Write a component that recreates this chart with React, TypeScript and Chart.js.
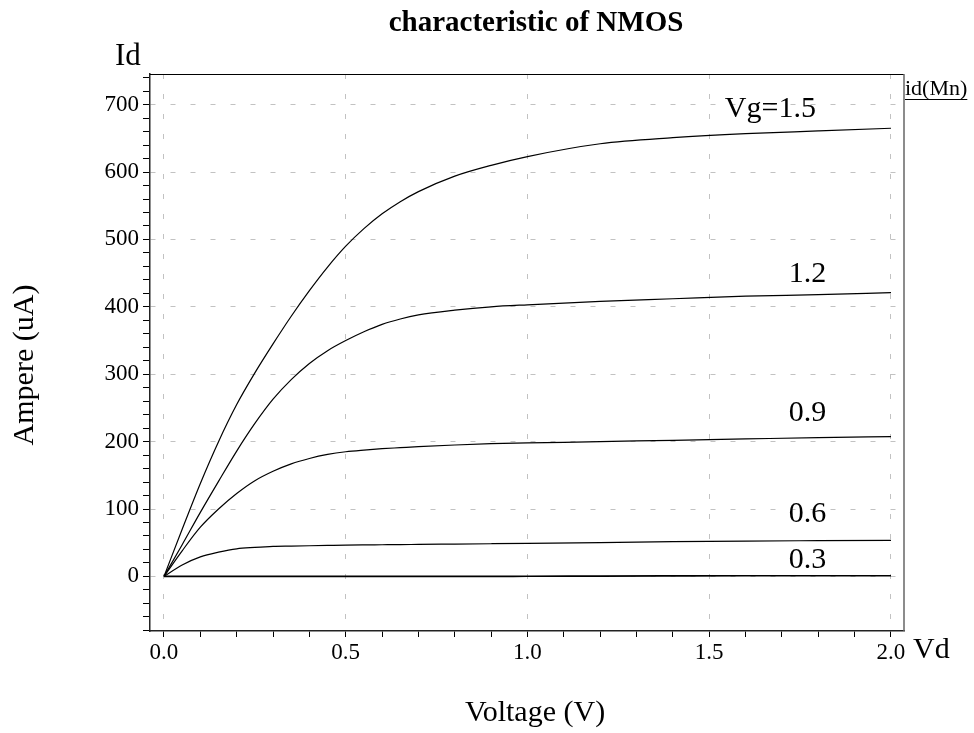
import React, { useEffect, useRef } from 'react';
import { Chart, registerables } from 'chart.js';

Chart.register(...registerables);

// Drain voltage samples (V)
const vd = [0, 0.05, 0.1, 0.15, 0.2, 0.25, 0.3, 0.35, 0.4, 0.45, 0.5, 0.55, 0.6, 0.65, 0.7, 0.8, 0.9, 1.0, 1.2, 1.4, 1.6, 1.8, 2.0];
// Drain current (uA) for each gate voltage
const idVg15 = [0, 70, 138, 200, 255, 302, 345, 386, 424, 459, 490, 516, 538, 556, 571, 594, 610, 623, 642, 651, 657, 661, 665];
const idVg12 = [0, 47, 95, 141, 186, 227, 263, 292, 316, 335, 350, 363, 374, 382, 388, 395, 400, 403, 408, 412, 416, 418, 421];
const idVg09 = [0, 38, 73, 100, 123, 142, 156, 167, 175, 181, 185, 187.5, 189.5, 191, 192.5, 195, 197, 198, 200, 202, 204, 206, 207.5];
const idVg06 = [0, 17, 29, 36, 41, 43, 44.5, 45, 45.5, 46, 46.5, 46.8, 47, 47.2, 47.5, 48, 48.5, 49, 50, 51.5, 52.5, 53, 53.5];
const idVg03 = [0, 0, 0, 0, 0, 0, 0, 0, 0, 0, 0, 0, 0, 0, 0, 0, 0, 0.2, 0.5, 0.8, 1, 1, 1];

const seriesData = [idVg15, idVg12, idVg09, idVg06, idVg03];
const seriesLabels = ['Vg=1.5', '1.2', '0.9', '0.6', '0.3'];

const xTickLabels = ['0.0', '0.5', '1.0', '1.5', '2.0'];
const yTickLabels = ['0', '100', '200', '300', '400', '500', '600', '700'];

const titleText = 'characteristic of NMOS';
const xAxisTitle = 'Voltage (V)';
const yAxisTitle = 'Ampere (uA)';
const xUnitLabel = 'Vd';
const yUnitLabel = 'Id';
const legendText = 'id(Mn)';

const FONT = '"Liberation Serif", "Times New Roman", serif';
const GRID = '#c2c2c2';

// label anchors (data coordinates, left/baseline)
const curveLabelAnchors = [
  { x: 1.543, y: 682 },
  { x: 1.719, y: 437 },
  { x: 1.719, y: 230 },
  { x: 1.719, y: 81 },
  { x: 1.719, y: 12 },
];

const textPlugin = {
  id: 'textPlugin',
  afterDraw(chart: any) {
    const { ctx, chartArea, scales } = chart;
    const xs = scales.x;
    const ys = scales.y;
    ctx.save();
    // top and right frame
    ctx.strokeStyle = '#000';
    ctx.lineWidth = 1;
    ctx.beginPath();
    ctx.moveTo(chartArea.left, chartArea.top + 0.5);
    ctx.lineTo(chartArea.right, chartArea.top + 0.5);
    ctx.stroke();
    ctx.strokeStyle = '#666';
    ctx.lineWidth = 1.5;
    ctx.beginPath();
    ctx.moveTo(chartArea.right, chartArea.top);
    ctx.lineTo(chartArea.right, chartArea.bottom);
    ctx.stroke();

    ctx.fillStyle = '#000';
    ctx.textBaseline = 'alphabetic';

    // title
    ctx.font = `bold 29px ${FONT}`;
    ctx.textAlign = 'center';
    ctx.fillText(titleText, 536, 31);

    // axis titles
    ctx.font = `30px ${FONT}`;
    ctx.fillText(xAxisTitle, 535, 721);
    ctx.save();
    ctx.translate(33, 365);
    ctx.rotate(-Math.PI / 2);
    ctx.fillText(yAxisTitle, 0, 0);
    ctx.restore();

    // unit labels
    ctx.textAlign = 'left';
    ctx.font = `31px ${FONT}`;
    ctx.fillText(yUnitLabel, 115, 65);
    ctx.font = `30px ${FONT}`;
    ctx.fillText(xUnitLabel, 913, 658);

    // legend entry
    ctx.font = `22px ${FONT}`;
    ctx.fillText(legendText, 905, 95);
    const w = ctx.measureText(legendText).width;
    ctx.lineWidth = 1;
    ctx.strokeStyle = '#000';
    ctx.beginPath();
    ctx.moveTo(905, 99.5);
    ctx.lineTo(905 + w, 99.5);
    ctx.stroke();

    // curve labels
    ctx.font = `30px ${FONT}`;
    seriesLabels.forEach((t, i) => {
      const a = curveLabelAnchors[i];
      ctx.fillText(t, xs.getPixelForValue(a.x), ys.getPixelForValue(a.y));
    });
    ctx.restore();
  },
};

export default function App() {
  const ref = useRef<HTMLCanvasElement>(null);
  useEffect(() => {
    const chart = new Chart(ref.current as HTMLCanvasElement, {
      type: 'line',
      data: {
        datasets: seriesData.map((arr, i) => ({
          label: seriesLabels[i],
          data: vd.map((x, j) => ({ x, y: arr[j] })),
          borderColor: '#000',
          borderWidth: i === 4 ? 1.6 : 1.2,
          pointRadius: 0,
          fill: false,
          cubicInterpolationMode: 'monotone' as const,
        })),
      },
      options: {
        animation: false,
        responsive: false,
        devicePixelRatio: 1,
        layout: { padding: { top: 74, right: 70, left: 0, bottom: 0 } },
        plugins: {
          legend: { display: false },
          tooltip: { enabled: false },
          title: { display: false },
        },
        scales: {
          x: {
            type: 'linear',
            min: -0.0385,
            max: 2.0358,
            afterFit: (s: any) => { s.height = 102; },
            afterBuildTicks: (s: any) => {
              s.ticks = Array.from({ length: 21 }, (_, i) => ({ value: i / 10 }));
            },
            ticks: {
              autoSkip: false,
              maxRotation: 0,
              padding: 2,
              color: '#000',
              font: { family: FONT, size: 23 },
              callback: (v: any) => {
                const k = Math.round(Number(v) * 10);
                return k % 5 === 0 ? xTickLabels[k / 5] : '';
              },
            },
            grid: {
              color: (c: any) => {
                const v = c.tick ? c.tick.value : NaN;
                return Math.round(v * 10) % 5 === 0 ? GRID : 'rgba(0,0,0,0)';
              },
              lineWidth: 1,
              tickColor: '#000',
              tickLength: 6,
              tickWidth: 1,
            },
            border: { display: true, color: '#222', width: 1.5, dash: [5, 15] },
          },
          y: {
            type: 'linear',
            min: -81,
            max: 745.5,
            afterFit: (s: any) => { s.width = 150; },
            afterBuildTicks: (s: any) => {
              s.ticks = Array.from({ length: 42 }, (_, i) => ({ value: (i - 4) * 20 }));
            },
            ticks: {
              autoSkip: false,
              padding: 4,
              color: '#000',
              font: { family: FONT, size: 23 },
              callback: (v: any) => {
                const n = Math.round(Number(v));
                return n % 100 === 0 && n >= 0 && n <= 700 ? yTickLabels[n / 100] : '';
              },
            },
            grid: {
              color: (c: any) => {
                const n = c.tick ? Math.round(c.tick.value) : NaN;
                return n % 100 === 0 && n >= 0 ? GRID : 'rgba(0,0,0,0)';
              },
              lineWidth: 1,
              tickColor: '#000',
              tickLength: 7,
              tickWidth: 1,
            },
            border: { display: true, color: '#222', width: 1.5, dash: [5, 15] },
          },
        },
      } as any,
      plugins: [textPlugin],
    });
    return () => chart.destroy();
  }, []);
  return (
    <div style={{ position: 'fixed', left: 0, top: 0, width: 974, height: 733, background: '#fff' }}>
      <canvas ref={ref} width={974} height={733} style={{ display: 'block', width: 974, height: 733 }} />
    </div>
  );
}
